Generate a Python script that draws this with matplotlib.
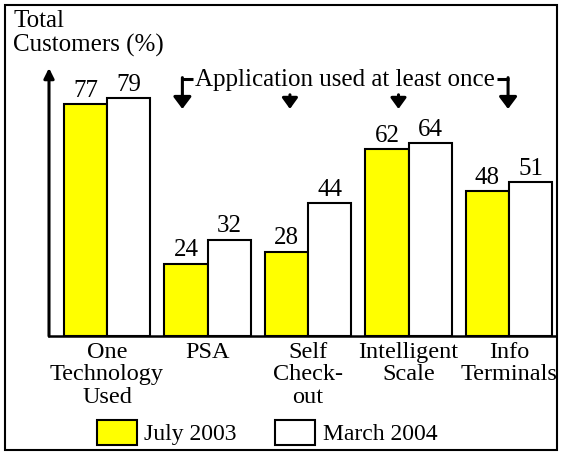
import numpy as np
import matplotlib.pyplot as plt
from matplotlib.patches import Rectangle, Patch

categories = ["One\nTechnology\nUsed", "PSA", "Self\nCheck-\nout", "Intelligent\nScale", "Info\nTerminals"]
july_2003 = [77, 24, 28, 62, 48]
march_2004 = [79, 32, 44, 64, 51]
series_names = ["July 2003", "March 2004"]

plt.rcParams['font.family'] = ['Liberation Serif', 'DejaVu Serif']
FS = 18

fig = plt.figure(figsize=(5.63, 4.53), dpi=100)
ax = fig.add_axes([49 / 563, 0.2583, 506 / 563, 0.5916])

x = np.arange(len(categories))
w = 0.43
ax.bar(x - w / 2, july_2003, w, color='#FFFF00', edgecolor='black', lw=1.5)
ax.bar(x + w / 2, march_2004, w, color='white', edgecolor='black', lw=1.5)

for xi, v in zip(x - w / 2, july_2003):
    ax.text(xi, v + 0.8, str(v), ha='center', va='bottom', fontsize=FS)
for xi, v in zip(x + w / 2, march_2004):
    ax.text(xi, v + 0.8, str(v), ha='center', va='bottom', fontsize=FS)

ax.set_xlim(-0.577, 4.457)
ax.set_ylim(0, 89)
for s in ['top', 'right', 'left']:
    ax.spines[s].set_visible(False)
ax.spines['bottom'].set_linewidth(1.8)
ax.set_yticks([])
ax.set_xticks(x)
ax.set_xticklabels(categories, fontsize=17.5, linespacing=1.1)
ax.tick_params(axis='x', length=0, pad=4)

# y axis arrow
ax.annotate('', xy=(-0.577, 89), xytext=(-0.577, 0), annotation_clip=False,
            arrowprops=dict(arrowstyle='-|>,head_width=0.3,head_length=0.6', lw=2.2,
                            color='black', shrinkA=0, shrinkB=0))

# bracket annotation
ax.text(2.37, 85.0, "Application used at least once", ha='center', va='center', fontsize=FS)
ax.plot([0.745, 0.86], [85.4, 85.4], color='black', lw=2.2, solid_capstyle='butt')
ax.plot([3.88, 3.995], [85.4, 85.4], color='black', lw=2.2, solid_capstyle='butt')
big_kw = dict(arrowstyle='-|>,head_width=0.54,head_length=0.72', lw=2.2, color='black', shrinkA=0, shrinkB=0)
small_kw = dict(arrowstyle='-|>,head_width=0.47,head_length=0.65', lw=2.2, color='black', shrinkA=0, shrinkB=0)
ax.annotate('', xy=(0.75, 75.4), xytext=(0.75, 85.8), arrowprops=big_kw, annotation_clip=False)
ax.annotate('', xy=(3.99, 75.4), xytext=(3.99, 85.8), arrowprops=big_kw, annotation_clip=False)
ax.annotate('', xy=(1.82, 75.4), xytext=(1.82, 80.1), arrowprops=small_kw, annotation_clip=False)
ax.annotate('', xy=(2.90, 75.4), xytext=(2.90, 80.1), arrowprops=small_kw, annotation_clip=False)

fig.text(13 / 563, 1 - 10 / 453, "Total\nCustomers (%)", ha='left', va='top', fontsize=FS, linespacing=1.1)

handles = [Patch(facecolor='#FFFF00', edgecolor='black', lw=1.5),
           Patch(facecolor='white', edgecolor='black', lw=1.5)]
fig.legend(handles, series_names, loc='center', bbox_to_anchor=(0.474, 0.045), ncol=2,
           frameon=False, fontsize=17, handlelength=1.7, handleheight=1.25,
           handletextpad=0.3, columnspacing=1.65)

fig.patches.append(Rectangle((5 / 563, 3 / 453), 552 / 563, 445 / 453, transform=fig.transFigure,
                             fill=False, edgecolor='black', lw=1.5))

fig.savefig('out.png', dpi=100)
